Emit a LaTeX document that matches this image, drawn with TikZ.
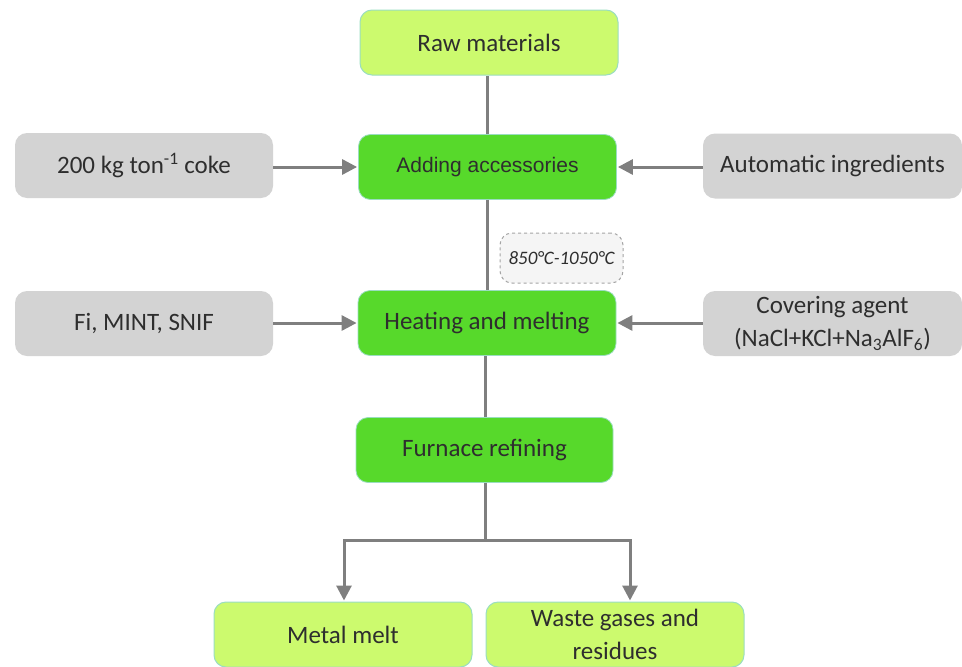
\documentclass[tikz,border=0pt]{standalone}
\usepackage{fontspec}
\setmainfont{Carlito}
\newfontfamily\arialf{Liberation Sans}
\usetikzlibrary{arrows.meta}
\definecolor{lgreen}{HTML}{CCFA6E}
\definecolor{bgreen}{HTML}{57D92B}
\definecolor{boxgray}{HTML}{D3D3D3}
\definecolor{edgeteal}{HTML}{9ADDC0}
\definecolor{linegray}{HTML}{7F7F7F}
\definecolor{txt}{HTML}{2E2E2E}
\begin{document}
\begin{tikzpicture}[x=1pt,y=-1pt,
  base/.style={rounded corners=12pt, minimum width=258pt, minimum height=65pt, inner sep=0pt, align=center, text=txt, font=\fontsize{25}{29}\selectfont},
  lbox/.style={base, fill=lgreen, draw=edgeteal, line width=1pt},
  gbox/.style={base, fill=bgreen, draw=edgeteal, line width=0.8pt},
  graybox/.style={base, fill=boxgray},
  conn/.style={draw=linegray, line width=3pt},
  arr/.style={conn, -{Triangle[length=15pt,width=15pt]}, shorten >=1pt}
]
\useasboundingbox (0,0) rectangle (962,667);

\node[lbox] (raw) at (489,42.5) {Raw materials};
\node[gbox, font=\arialf\fontsize{21}{25}\selectfont] (add) at (487.5,167) {Adding accessories};
\node[graybox] (coke) at (144,165.5) {200 kg ton\textsuperscript{-1} coke};
\node[graybox, minimum width=259pt] (auto) at (832.5,166) {Automatic ingredients};
\node[rounded corners=12pt, draw=linegray!70, dashed, line width=1pt, fill=gray!8, minimum width=123pt, minimum height=50pt, inner sep=0pt, text=txt, font=\fontsize{19}{22}\selectfont\itshape] (temp) at (561.5,258) {850°C-1050°C};
\node[graybox] (fi) at (144,323.5) {Fi, MINT, SNIF};
\node[gbox] (heat) at (487,323) {Heating and melting};
\node[graybox, minimum width=259pt, font=\fontsize{25}{33}\selectfont] (cover) at (832.5,323.5) {Covering agent\\(NaCl+KCl+Na\textsubscript{3}AlF\textsubscript{6})};
\node[gbox, minimum width=257pt] (furn) at (484.5,450) {Furnace refining};
\node[lbox] (melt) at (343,634.5) {Metal melt};
\node[lbox, font=\fontsize{25}{33}\selectfont] (waste) at (615,634.5) {Waste gases and\\residues};

\coordinate (lj) at (344,540);
\coordinate (rj) at (630,540);

\draw[conn] (add.north) -- (add.north |- raw.south);
\draw[conn] (add.south) -- (add.south |- heat.north);
\draw[conn] (furn.north -| 485,0) -- (heat.south -| 485,0);
\draw[conn] (furn.south -| 485,0) -- (lj -| 485,0);
\draw[conn, line cap=rect] (lj) -- (rj);
\draw[arr] (lj) -- (lj |- melt.north);
\draw[arr] (rj) -- (rj |- waste.north);
\draw[arr] (coke.east |- add) -- (add.west);
\draw[arr] (auto.west |- add) -- (add.east);
\draw[arr] (fi.east |- heat) -- (heat.west);
\draw[arr] (cover.west |- heat) -- (heat.east);
\end{tikzpicture}
\end{document}
